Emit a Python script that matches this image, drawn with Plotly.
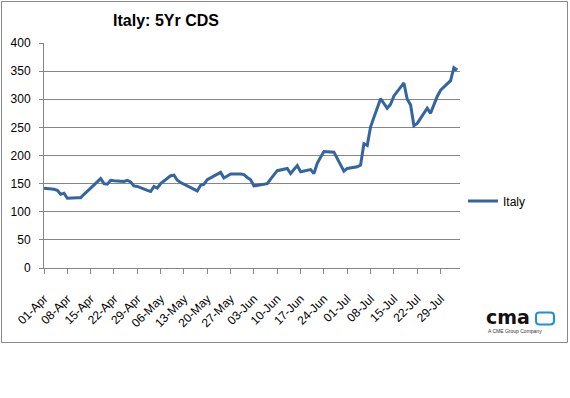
import plotly.graph_objects as go

dates = [
    "2011-04-01", "2011-04-04", "2011-04-05", "2011-04-06", "2011-04-07", "2011-04-08",
    "2011-04-11", "2011-04-12", "2011-04-13", "2011-04-14", "2011-04-15",
    "2011-04-18", "2011-04-19", "2011-04-20", "2011-04-21", "2011-04-22",
    "2011-04-25", "2011-04-26", "2011-04-27", "2011-04-28", "2011-04-29",
    "2011-05-02", "2011-05-03", "2011-05-04", "2011-05-05", "2011-05-06",
    "2011-05-09", "2011-05-10", "2011-05-11", "2011-05-12", "2011-05-13",
    "2011-05-16", "2011-05-17", "2011-05-18", "2011-05-19", "2011-05-20",
    "2011-05-23", "2011-05-24", "2011-05-25", "2011-05-26", "2011-05-27",
    "2011-05-30", "2011-05-31", "2011-06-01", "2011-06-02", "2011-06-03",
    "2011-06-06", "2011-06-07", "2011-06-08", "2011-06-09", "2011-06-10",
    "2011-06-13", "2011-06-14", "2011-06-15", "2011-06-16", "2011-06-17",
    "2011-06-20", "2011-06-21", "2011-06-22", "2011-06-23", "2011-06-24",
    "2011-06-27", "2011-06-28", "2011-06-29", "2011-06-30", "2011-07-01",
    "2011-07-04", "2011-07-05", "2011-07-06", "2011-07-07", "2011-07-08",
    "2011-07-11", "2011-07-12", "2011-07-13", "2011-07-14", "2011-07-15",
    "2011-07-18", "2011-07-19", "2011-07-20", "2011-07-21", "2011-07-22",
    "2011-07-25", "2011-07-26", "2011-07-27", "2011-07-28", "2011-07-29",
    "2011-08-01", "2011-08-02", "2011-08-03",
]

italy = [
    142, 140, 138, 131, 133, 124,
    125, 125, 131, 136, 142,
    159, 150, 149, 156, 155,
    154, 156, 153, 146, 145,
    138, 136, 145, 142, 150,
    164, 165, 156, 152, 149,
    140, 137, 147, 149, 157,
    166, 170, 160, 164, 167,
    167, 166, 161, 157, 146,
    149, 150, 158, 165, 173,
    177, 168, 175, 182, 171,
    175, 168, 186, 197, 207,
    206, 195, 182, 172, 177,
    180, 183, 221, 218, 251,
    301, 292, 284, 291, 306,
    329, 300, 290, 253, 257,
    284, 275, 290, 305, 316,
    333, 356, 352,
]

tick_dates = [
    "2011-04-01", "2011-04-08", "2011-04-15", "2011-04-22", "2011-04-29",
    "2011-05-06", "2011-05-13", "2011-05-20", "2011-05-27", "2011-06-03",
    "2011-06-10", "2011-06-17", "2011-06-24", "2011-07-01", "2011-07-08",
    "2011-07-15", "2011-07-22", "2011-07-29",
]
tick_labels = [
    "01-Apr", "08-Apr", "15-Apr", "22-Apr", "29-Apr", "06-May", "13-May",
    "20-May", "27-May", "03-Jun", "10-Jun", "17-Jun", "24-Jun", "01-Jul",
    "08-Jul", "15-Jul", "22-Jul", "29-Jul",
]
y_ticks = [0, 50, 100, 150, 200, 250, 300, 350, 400]

W, H = 570, 398
L, R, T, B = 44, 460, 43, 268


def px_x(p):
    return (p - L) / (R - L)


def px_y(p):
    return (B - p) / (B - T)


FONT = "Liberation Sans, Arial, sans-serif"
GRID = "#868686"

fig = go.Figure()
fig.add_trace(go.Scatter(
    x=dates, y=italy, mode="lines", name="Italy",
    line=dict(color="#3465a0", width=3),
))

fig.update_layout(
    width=W, height=H,
    margin=dict(l=L, r=W - R, t=T, b=H - B, pad=0),
    paper_bgcolor="white", plot_bgcolor="white",
    font=dict(family=FONT, size=12, color="black"),
    title=dict(text="<b>Italy: 5Yr CDS</b>", x=166 / W, xanchor="center",
               y=1 - 20 / H, yanchor="middle",
               font=dict(family=FONT, size=16, color="black")),
    showlegend=True,
    legend=dict(x=px_x(463), xanchor="left", y=px_y(201), yanchor="middle",
                font=dict(family=FONT, size=12, color="black"),
                bgcolor="rgba(0,0,0,0)"),
    xaxis=dict(
        type="date", range=["2011-04-01", "2011-08-03 20:00"],
        tickvals=tick_dates, ticktext=tick_labels, tickangle=-45,
        showgrid=False, showline=True, linecolor=GRID, linewidth=1,
        ticks="outside", ticklen=5, tickcolor=GRID, tickwidth=1,
        tickfont=dict(family=FONT, size=12, color="black"),
        ticklabelstandoff=13, zeroline=False,
    ),
    yaxis=dict(
        range=[0, 400], tickvals=y_ticks,
        showgrid=True, gridcolor=GRID, gridwidth=1,
        showline=True, linecolor=GRID, linewidth=1,
        ticks="outside", ticklen=4, tickcolor=GRID, tickwidth=1,
        tickfont=dict(family=FONT, size=12, color="black"),
        ticklabelstandoff=6, zeroline=False,
    ),
)

# chart border
fig.add_shape(type="rect", xref="paper", yref="paper",
              x0=px_x(1.5), x1=px_x(567.5), y0=px_y(342.5), y1=px_y(1.5),
              line=dict(color="#8a8a8a", width=1), fillcolor="rgba(0,0,0,0)",
              layer="above")

# logo: "cma" + rounded screen-shaped box
fig.add_annotation(xref="paper", yref="paper", x=px_x(484), y=px_y(317),
                   xanchor="left", yanchor="middle", showarrow=False,
                   text="<b>cma</b>",
                   font=dict(family="DejaVu Sans", size=19, color="#111111"))

bx0, bx1, by0, by1, rr = 536, 554, 312.5, 324.5, 3.5


def P(x, y):
    return f"{px_x(x):.5f},{px_y(y):.5f}"


box_path = (
    f"M {P(bx0 + rr, by0)} L {P(bx1 - rr, by0)} Q {P(bx1, by0)} {P(bx1, by0 + rr)} "
    f"L {P(bx1, by1 - rr)} Q {P(bx1, by1)} {P(bx1 - rr, by1)} "
    f"L {P(bx0 + rr, by1)} Q {P(bx0, by1)} {P(bx0, by1 - rr)} "
    f"L {P(bx0, by0 + rr)} Q {P(bx0, by0)} {P(bx0 + rr, by0)} Z"
)
fig.add_shape(type="path", xref="paper", yref="paper", path=box_path,
              line=dict(color="#1f8fd6", width=2), fillcolor="rgba(0,0,0,0)")
fig.add_annotation(xref="paper", yref="paper", x=px_x(486), y=px_y(331),
                   xanchor="left", yanchor="middle", showarrow=False,
                   text="A CME Group Company",
                   font=dict(family=FONT, size=5, color="#333333"))

fig.write_html("out.html",
               config={"displayModeBar": False},
               post_script="document.body.style.margin='0px';"
                           "document.body.style.overflow='hidden';")
